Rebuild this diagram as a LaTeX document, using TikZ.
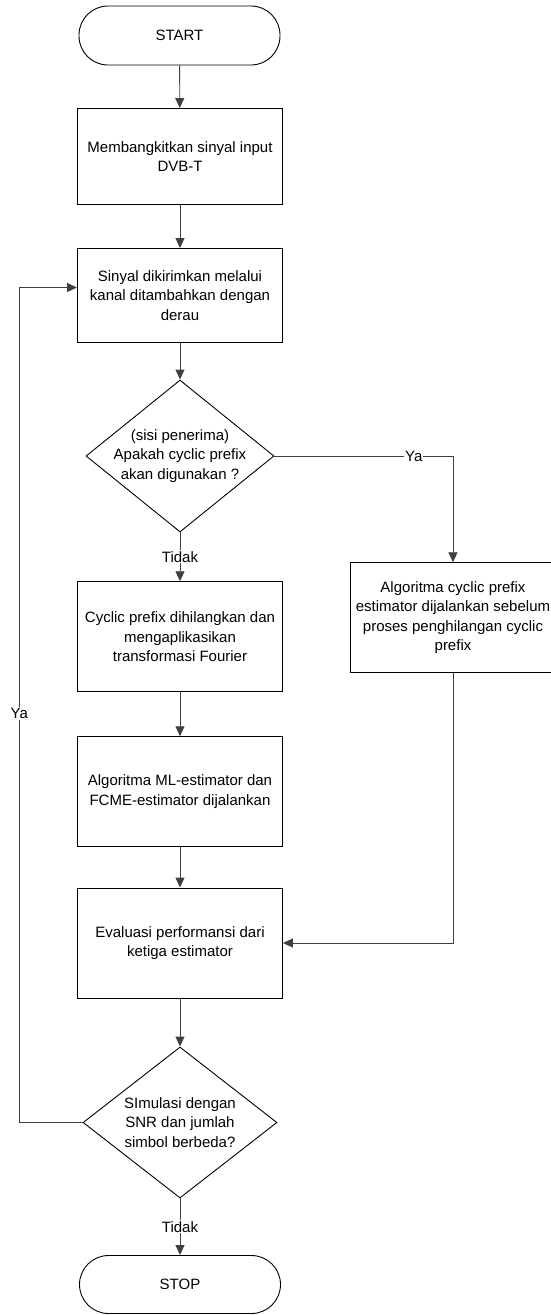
\documentclass[tikz,border=0pt]{standalone}
\usepackage{fontspec}
\setmainfont{Liberation Sans}
\usetikzlibrary{shapes.geometric, arrows.meta, positioning}
\tikzstyle{startstop} = [rectangle, draw, rounded corners=29pt, minimum width=201pt, minimum height=59pt, line width=0.9pt]
\tikzstyle{block} = [rectangle, draw, align=center, minimum width=205pt, minimum height=110pt, line width=0.9pt]
\tikzstyle{decision} = [diamond, draw, align=center, aspect=1.24, inner sep=-8pt, minimum width=188pt, minimum height=152pt, line width=0.9pt]
\tikzstyle{arrow} = [line width=0.9pt, draw=black!75, -{Triangle[width=9pt,length=10pt]}]
\tikzstyle{lbl} = [fill=white, inner sep=1pt]

\begin{document}
\begin{tikzpicture}[x=1pt, y=1pt, node distance=150pt, font=\fontsize{15}{19.5}\selectfont]

    \useasboundingbox (0,0) rectangle (550,-1315);

    % Main path
    \node (start) [startstop] at (179.5,-35.5) {START};
    \node (gen) [block, below of=start, yshift=29pt, xshift=0.5pt, minimum height=96pt] {Membangkitkan sinyal input\\DVB-T};
    \node (chan) [block, below of=gen, yshift=11pt, minimum height=94pt] {Sinyal dikirimkan melalui\\kanal ditambahkan dengan\\derau};
    \node (cpq) [decision, below of=chan, yshift=-10.5pt] {(sisi penerima)\\Apakah cyclic prefix\\akan digunakan ?};
    \node (rmcp) [block, below of=cpq, yshift=-30.7pt] {Cyclic prefix dihilangkan dan\\mengaplikasikan\\transformasi Fourier};
    \node (mlfcme) [block, below of=rmcp, yshift=-5pt] {Algoritma ML-estimator dan\\FCME-estimator dijalankan};
    \node (eval) [block, below of=mlfcme, yshift=-1.3pt] {Evaluasi performansi dari\\ketiga estimator};
    \node (again) [decision, below of=eval, yshift=-29.5pt, minimum width=194pt, minimum height=151pt] {SImulasi dengan\\SNR dan jumlah\\simbol berbeda?};
    \node (stop) [startstop, below of=again, yshift=-12pt, minimum height=58pt] {STOP};

    % Side branch
    \node (cpest) [block, right of=rmcp, xshift=123pt, yshift=19pt] {Algoritma cyclic prefix\\estimator dijalankan sebelum\\proses penghilangan cyclic\\prefix};
    \coordinate (loopx) at (19.3,0);

    % ==== Arrows
    \draw [arrow] (start) -- (gen);
    \draw [arrow] (gen) -- (chan);
    \draw [arrow] (chan) -- (cpq);
    \draw [arrow] (cpq) -- node[lbl] {Tidak} (rmcp);
    \draw [arrow] (rmcp) -- (mlfcme);
    \draw [arrow] (mlfcme) -- (eval);
    \draw [arrow] (eval) -- (again);
    \draw [arrow] (again) -- node[lbl] {Tidak} (stop);

    % Branches
    \draw [arrow] (cpq.east) -| node[lbl, pos=0.39] {Ya} (cpest.north);
    \draw [arrow] (cpest.south) |- (eval.east);
    \draw [arrow] (again.west) -- (again.west -| loopx) |- node[lbl, pos=0.245] {Ya} ([yshift=8pt]chan.west);

\end{tikzpicture}
\end{document}
